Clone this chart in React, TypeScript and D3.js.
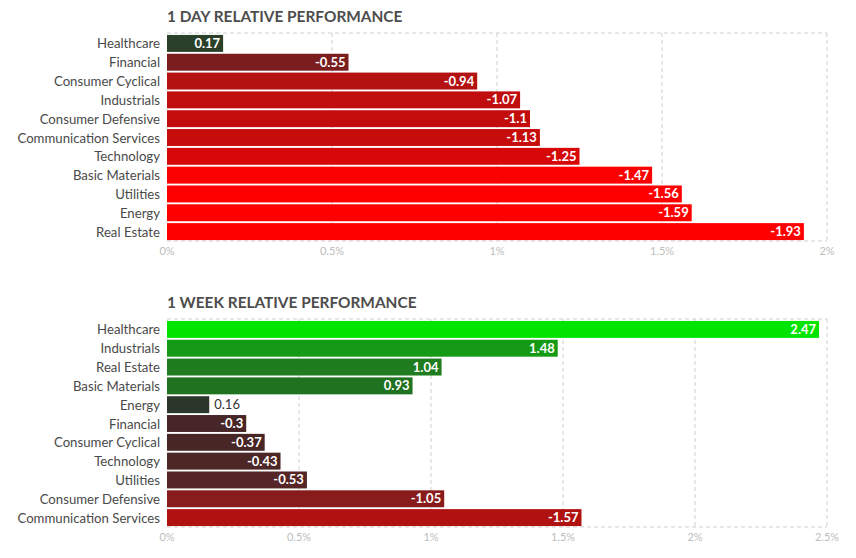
import * as d3 from "d3";

const dayCategories = [
  "Healthcare",
  "Financial",
  "Consumer Cyclical",
  "Industrials",
  "Consumer Defensive",
  "Communication Services",
  "Technology",
  "Basic Materials",
  "Utilities",
  "Energy",
  "Real Estate",
];
const dayValues = [0.17, -0.55, -0.94, -1.07, -1.1, -1.13, -1.25, -1.47, -1.56, -1.59, -1.93];
const dayColors = [
  "#2a4028", "#7a1d1e", "#b41212", "#c00e0e", "#c30d0d", "#c70c0c",
  "#d60808", "#fb0101", "#ff0000", "#ff0000", "#ff0000",
];
const dayTicks = [0, 0.5, 1, 1.5, 2];

const weekCategories = [
  "Healthcare",
  "Industrials",
  "Real Estate",
  "Basic Materials",
  "Energy",
  "Financial",
  "Consumer Cyclical",
  "Technology",
  "Utilities",
  "Consumer Defensive",
  "Communication Services",
];
const weekValues = [2.47, 1.48, 1.04, 0.93, 0.16, -0.3, -0.37, -0.43, -0.53, -1.05, -1.57];
const weekColors = [
  "#00e400", "#159a15", "#1f7d1f", "#1f721f", "#2b372b", "#462626",
  "#482626", "#4d2626", "#562525", "#881c1c", "#b01212",
];
const weekTicks = [0, 0.5, 1, 1.5, 2, 2.5];

const FONT = "Lato, 'Open Sans', sans-serif";

function PerfChart({
  title,
  categories,
  values,
  colors,
  ticks,
  top,
}: {
  title: string;
  categories: string[];
  values: number[];
  colors: string[];
  ticks: number[];
  top: number;
}) {
  const left = 167;
  const right = 827;
  const plotTop = top + 23;
  const plotBottom = plotTop + 208;
  const x = d3.scaleLinear().domain([0, ticks[ticks.length - 1]]).range([left, right]);
  const y = d3.scaleBand<string>().domain(categories).range([plotTop + 1, plotBottom]).paddingInner(0.1).paddingOuter(0.05);

  return (
    <g>
      <text x={left} y={top + 12} fill="#4d4d4d" fontSize="15.4" fontWeight="700" fontFamily={FONT}>
        {title}
      </text>
      <line x1={left} x2={right} y1={plotTop} y2={plotTop} stroke="#cfcfcf" strokeDasharray="4 3" />
      <line x1={left} x2={right} y1={plotBottom} y2={plotBottom} stroke="#cfcfcf" strokeDasharray="4 3" />
      {ticks.map((t) => (
        <g key={t}>
          {t > 0 && (
            <line x1={x(t)} x2={x(t)} y1={plotTop} y2={plotBottom} stroke="#cfcfcf" strokeDasharray="4 3" />
          )}
          <text x={x(t)} y={plotBottom + 14} fill="#bdbdbd" fontSize="11" textAnchor="middle" fontFamily={FONT}>
            {`${t}%`}
          </text>
        </g>
      ))}
      {categories.map((c, i) => {
        const v = values[i];
        const w = x(Math.abs(v)) - left;
        const by = y(c) ?? 0;
        const bh = y.bandwidth();
        const label = String(v);
        const inside = w > label.length * 7 + 20;
        return (
          <g key={c}>
            <text x={160} y={by + bh / 2 + 5} fill="#4a4a4a" fontSize="13.2" textAnchor="end" fontFamily={FONT}>
              {c}
            </text>
            <rect x={left} y={by} width={w} height={bh} fill={colors[i]} />
            {inside ? (
              <text x={left + w - 3} y={by + bh / 2 + 4.5} fill="#fff" fontSize="13" fontWeight="700" textAnchor="end" fontFamily={FONT}>
                {label}
              </text>
            ) : (
              <text x={left + w + 5} y={by + bh / 2 + 4.5} fill="#333" fontSize="13" textAnchor="start" fontFamily={FONT}>
                {label}
              </text>
            )}
          </g>
        );
      })}
    </g>
  );
}

export default function App() {
  return (
    <svg
      width={856}
      height={558}
      viewBox="0 0 856 558"
      style={{ position: "absolute", left: 0, top: 0, background: "#fff" }}
    >
      <PerfChart
        title="1 DAY RELATIVE PERFORMANCE"
        categories={dayCategories}
        values={dayValues}
        colors={dayColors}
        ticks={dayTicks}
        top={10}
      />
      <PerfChart
        title="1 WEEK RELATIVE PERFORMANCE"
        categories={weekCategories}
        values={weekValues}
        colors={weekColors}
        ticks={weekTicks}
        top={296}
      />
    </svg>
  );
}
